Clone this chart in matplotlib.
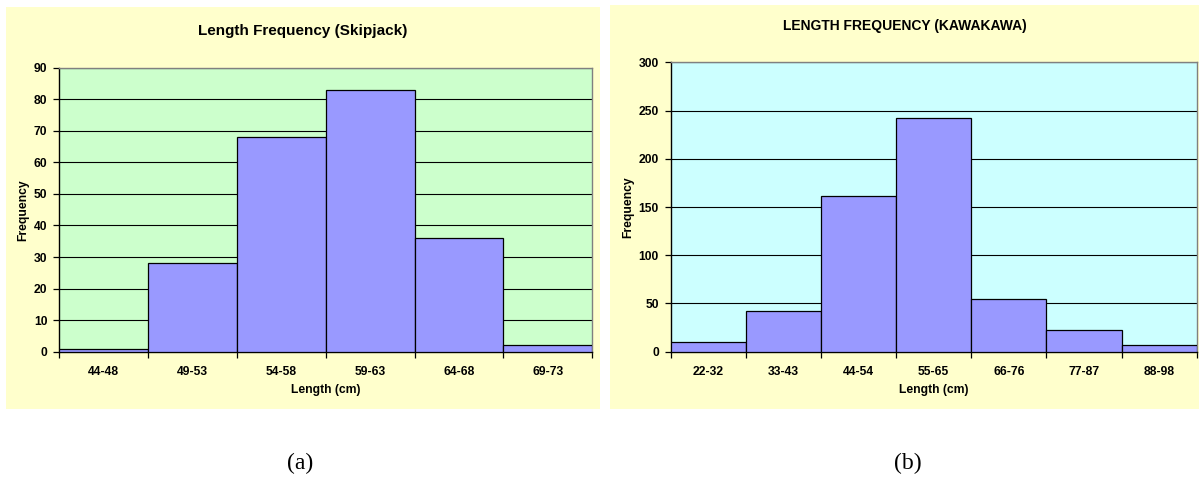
import matplotlib
matplotlib.use('Agg')
import matplotlib.pyplot as plt
import numpy as np
from matplotlib.patches import Rectangle

# skipjack length classes and counts
SKJ_CLASSES = ['44-48', '49-53', '54-58', '59-63', '64-68', '69-73']
SKJ_COUNTS = [1, 28, 68, 83, 36, 2]
SKJ_YTICKS = [0, 10, 20, 30, 40, 50, 60, 70, 80, 90]

# kawakawa length classes and counts
KAW_CLASSES = ['22-32', '33-43', '44-54', '55-65', '66-76', '77-87', '88-98']
KAW_COUNTS = [10, 42, 161, 242, 55, 22, 7]
KAW_YTICKS = [0, 50, 100, 150, 200, 250, 300]

PANEL_BG = '#FFFFCC'
BAR_COLOR = '#9999FF'
FONT = 'Liberation Sans'
TICK_SIZE = 8.7

plt.rcParams['font.family'] = FONT


def histogram_panel(fig, panel_rect, ax_rect, classes, counts, yticks, title,
                    title_size, plot_bg, title_y, ylabel_x):
    # pale chart-area background behind each histogram
    fig.patches.append(Rectangle(panel_rect[:2], panel_rect[2], panel_rect[3],
                                 transform=fig.transFigure, facecolor=PANEL_BG,
                                 edgecolor='none', zorder=-5))
    ax = fig.add_axes(ax_rect)
    ax.set_facecolor(plot_bg)

    x = np.arange(len(classes))
    ax.bar(x, counts, width=1.0, color=BAR_COLOR, edgecolor='black',
           linewidth=0.9, zorder=3)

    ax.set_xlim(-0.5, len(classes) - 0.5)
    ax.set_ylim(yticks[0], yticks[-1])
    ax.set_yticks(yticks)
    ax.set_yticklabels([str(t) for t in yticks], fontsize=TICK_SIZE,
                       fontweight='bold')
    ax.yaxis.grid(True, color='black', linewidth=0.8, zorder=1)
    ax.set_axisbelow(True)

    # bin edges get tick marks, class names sit between them
    ax.set_xticks(np.arange(len(classes) + 1) - 0.5)
    ax.set_xticklabels([])
    ax.set_xticks(x, minor=True)
    ax.set_xticklabels(classes, minor=True, fontsize=TICK_SIZE,
                       fontweight='bold')
    ax.tick_params(axis='x', which='major', direction='out', length=4,
                   width=0.9, color='black')
    ax.tick_params(axis='x', which='minor', length=0, pad=10)
    ax.tick_params(axis='y', direction='out', length=4, width=0.9, pad=4.5)

    for side in ('left', 'bottom'):
        ax.spines[side].set_color('black')
        ax.spines[side].set_linewidth(1.0)
    for side in ('top', 'right'):
        ax.spines[side].set_color('#808080')
        ax.spines[side].set_linewidth(1.0)

    cx = panel_rect[0] + panel_rect[2] / 2
    fig.text(cx, title_y, title, ha='center', va='center', fontsize=title_size,
             fontweight='bold')
    fig.text(ax_rect[0] + ax_rect[2] / 2, 1 - 390 / 483, 'Length (cm)',
             ha='center', va='center', fontsize=8.7, fontweight='bold')
    fig.text(ylabel_x, ax_rect[1] + ax_rect[3] / 2, 'Frequency', rotation=90,
             ha='center', va='center', fontsize=8.7, fontweight='bold')
    return ax


fig = plt.figure(figsize=(11.99, 4.83), dpi=100)
fig.patch.set_facecolor('white')

W, H = 1199, 483

histogram_panel(fig,
                (6 / W, 1 - 409 / H, 594 / W, 402 / H),
                (59.3 / W, 1 - 351.7 / H, 533 / W, 284 / H),
                SKJ_CLASSES, SKJ_COUNTS, SKJ_YTICKS,
                'Length Frequency (Skipjack)', 11, '#CCFFCC',
                1 - 31 / H, 23 / W)

histogram_panel(fig,
                (610 / W, 1 - 409 / H, 589 / W, 404 / H),
                (670.7 / W, 1 - 351.7 / H, 526 / W, 289.4 / H),
                KAW_CLASSES, KAW_COUNTS, KAW_YTICKS,
                'LENGTH FREQUENCY (KAWAKAWA)', 10, '#CCFFFF',
                1 - 26 / H, 628 / W)

fig.text(300 / W, 1 - 463 / H, '(a)', ha='center', va='center',
         fontsize=17, family='Liberation Serif')
fig.text(908 / W, 1 - 463 / H, '(b)', ha='center', va='center',
         fontsize=17, family='Liberation Serif')

fig.savefig('out.png', dpi=100)
